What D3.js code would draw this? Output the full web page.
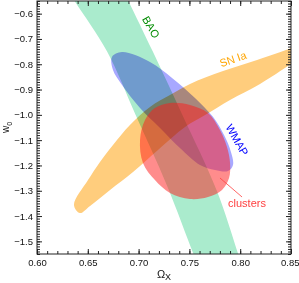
<!DOCTYPE html>
<html>
<head>
<meta charset="utf-8">
<script src="https://cdn.jsdelivr.net/npm/d3@7"></script>
<style>
  body { margin: 0; background: #fff; }
  svg { display: block; font-family: "Liberation Sans", Arial, sans-serif; }
  .blob { mix-blend-mode: multiply; }
</style>
</head>
<body>
<div id="chart"></div>
<script>
// contour outlines, [omega_x, w0]
var baoLeft = [[0.621,-0.45],[0.637,-0.55],[0.669,-0.75],[0.697,-1.00],[0.728,-1.28],[0.754,-1.55],[0.764,-1.65]];
var baoRight = [[0.678,-0.45],[0.690,-0.55],[0.714,-0.75],[0.743,-1.00],[0.777,-1.30],[0.798,-1.55],[0.806,-1.65]];

var sniaUpper = [[0.6364,-1.356],[0.6502,-1.258],[0.6620,-1.186],[0.6748,-1.119],[0.6915,-1.040],[0.7112,-0.969],
                 [0.7309,-0.922],[0.7506,-0.878],[0.7831,-0.827],[0.8166,-0.783],[0.8500,-0.736],[0.8687,-0.700]];
var sniaLower = [[0.8687,-0.752],[0.8500,-0.799],[0.8195,-0.878],[0.7900,-0.941],[0.7654,-1.001],[0.7457,-1.048],
                 [0.7191,-1.139],[0.6945,-1.226],[0.6719,-1.297],[0.6522,-1.360],[0.6423,-1.388]];

var wmap = [[0.6738,-0.771],[0.6837,-0.752],[0.7112,-0.791],[0.7329,-0.854],[0.7555,-0.933],[0.7732,-1.008],
            [0.7841,-1.080],[0.7909,-1.147],[0.7929,-1.198],[0.7880,-1.222],[0.7752,-1.218],[0.7604,-1.198],
            [0.7407,-1.131],[0.7211,-1.052],[0.7014,-0.973],[0.6837,-0.882],[0.6748,-0.823]];

var clusters = [[0.7014,-1.099],[0.7063,-1.020],[0.7161,-0.973],[0.7309,-0.953],[0.7506,-0.961],[0.7683,-0.993],
                [0.7801,-1.060],[0.7870,-1.127],[0.7900,-1.190],[0.7890,-1.250],[0.7821,-1.297],[0.7683,-1.325],
                [0.7506,-1.333],[0.7309,-1.309],[0.7161,-1.258],[0.7043,-1.190]];

var xTicks = [0.60, 0.65, 0.70, 0.75, 0.80, 0.85];
var yTicks = [-0.6, -0.7, -0.8, -0.9, -1.0, -1.1, -1.2, -1.3, -1.4, -1.5];

var labels = [
  {text: "BAO", pos: [0.7122,-0.653], rot: 60, color: "#008c00"},
  {text: "SN Ia", pos: [0.7929,-0.780], rot: -19, color: "#ffa500"},
  {text: "WMAP", pos: [0.7969,-1.099], rot: 60, color: "#0000ff"},
  {text: "clusters", pos: [0.8067,-1.348], rot: 0, color: "#ff4040"}
];
var leader = [[0.7801,-1.2496],[0.8018,-1.3247]];

function drawChart() {
  var width = 299, height = 283;
  var margin = {top: 1, right: 8, bottom: 29, left: 37};

  var svg = d3.select("#chart").append("svg")
      .attr("width", width)
      .attr("height", height);

  var x = d3.scaleLinear().domain([0.60, 0.85]).range([margin.left, width - margin.right]);
  var y = d3.scaleLinear().domain([-0.55, -1.55]).range([margin.top, height - margin.bottom]);

  svg.append("clipPath").attr("id", "clip")
    .append("rect")
      .attr("x", x(0.60)).attr("y", y(-0.55))
      .attr("width", x(0.85) - x(0.60)).attr("height", y(-1.55) - y(-0.55));

  var outline = d3.line().x(d => x(d[0])).y(d => y(d[1])).curve(d3.curveCatmullRomClosed);

  var g = svg.append("g").attr("clip-path", "url(#clip)");

  g.append("path")
      .attr("class", "blob")
      .attr("d", outline(baoLeft.concat(baoRight.slice().reverse())))
      .attr("fill", "#aaebcd");

  g.append("path")
      .attr("class", "blob")
      .attr("d", outline(wmap))
      .attr("fill", "#a8a8ff");

  g.append("path")
      .attr("class", "blob")
      .attr("d", outline(sniaUpper.concat(sniaLower)))
      .attr("fill", "#ffcd7d");

  g.append("path")
      .attr("d", outline(clusters))
      .attr("fill", "rgb(255,25,25)")
      .attr("fill-opacity", 0.5);

  // annotations
  g.append("line")
      .attr("x1", x(leader[0][0])).attr("y1", y(leader[0][1]))
      .attr("x2", x(leader[1][0])).attr("y2", y(leader[1][1]))
      .attr("stroke", "#ff4040").attr("stroke-width", 0.8);

  svg.selectAll(".lab")
    .data(labels)
    .enter()
    .append("text")
      .attr("class", "lab")
      .attr("transform", d => "translate(" + x(d.pos[0]) + "," + y(d.pos[1]) + ") rotate(" + d.rot + ")")
      .attr("text-anchor", "middle")
      .attr("dy", "0.35em")
      .attr("font-size", 11)
      .attr("fill", d => d.color)
      .text(d => d.text);

  // axes, ticks inward on all sides
  function minor(lo, hi) { return d3.range(Math.round(lo * 100), Math.round(hi * 100) + 1).map(v => v / 100); }
  var xMinor = minor(0.60, 0.85);
  var yMinor = minor(-1.55, -0.55);

  function styleAxis(sel) {
    sel.select(".domain").remove();
    sel.selectAll(".tick line").attr("stroke", "#222");
    sel.selectAll(".tick text").attr("fill", "#111").attr("font-size", 9.5)
       .attr("font-family", "Liberation Sans, Arial, sans-serif");
  }

  var axB = svg.append("g").attr("transform", "translate(0," + y(-1.55) + ")");
  axB.call(d3.axisBottom(x).tickValues(xMinor).tickSize(-3).tickFormat("")).call(styleAxis);
  var axBMajor = axB.append("g")
      .call(d3.axisBottom(x).tickValues(xTicks).tickSize(-5).tickPadding(5).tickFormat(d3.format(".2f")))
      .call(styleAxis);
  // keep the last label inside the window
  axBMajor.selectAll(".tick text").filter(d => d === 0.85).attr("text-anchor", "end").attr("dx", 8);

  var axT = svg.append("g").attr("transform", "translate(0," + y(-0.55) + ")");
  axT.call(d3.axisTop(x).tickValues(xMinor).tickSize(-3).tickFormat("")).call(styleAxis);
  axT.append("g").call(d3.axisTop(x).tickValues(xTicks).tickSize(-5).tickFormat("")).call(styleAxis);

  var axL = svg.append("g").attr("transform", "translate(" + x(0.60) + ",0)");
  axL.call(d3.axisLeft(y).tickValues(yMinor).tickSize(-3).tickFormat("")).call(styleAxis);
  axL.append("g").call(d3.axisLeft(y).tickValues(yTicks).tickSize(-5).tickPadding(4).tickFormat(d3.format(".1f"))).call(styleAxis);

  var axR = svg.append("g").attr("transform", "translate(" + x(0.85) + ",0)");
  axR.call(d3.axisRight(y).tickValues(yMinor).tickSize(-3).tickFormat("")).call(styleAxis);
  axR.append("g").call(d3.axisRight(y).tickValues(yTicks).tickSize(-5).tickFormat("")).call(styleAxis);

  svg.append("rect")
      .attr("x", x(0.60)).attr("y", y(-0.55))
      .attr("width", x(0.85) - x(0.60)).attr("height", y(-1.55) - y(-0.55))
      .attr("fill", "none").attr("stroke", "#222").attr("stroke-width", 1);

  // axis titles
  var xt = svg.append("text")
      .attr("x", (x(0.60) + x(0.85)) / 2).attr("y", 278)
      .attr("text-anchor", "middle").attr("font-size", 11).attr("fill", "#111");
  xt.append("tspan").text("\u03A9");
  xt.append("tspan").attr("dy", 2).attr("font-size", 9).text("X");

  var yt = svg.append("text")
      .attr("transform", "translate(9," + (y(-1.05)) + ") rotate(-90)")
      .attr("text-anchor", "middle").attr("font-size", 10).attr("fill", "#111");
  yt.append("tspan").text("w");
  yt.append("tspan").attr("dy", 3).attr("font-size", 7).text("0");
}
drawChart();
</script>
</body>
</html>
